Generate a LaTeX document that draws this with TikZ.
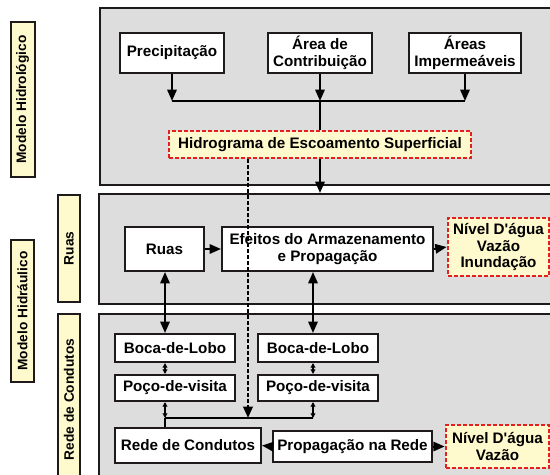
\documentclass[tikz,border=0pt]{standalone}
\usepackage{fontspec}
\setmainfont{Liberation Sans}
\usepackage{xcolor}
\usetikzlibrary{arrows.meta,positioning}

\definecolor{panelgray}{RGB}{221,221,221}
\definecolor{notefill}{RGB}{255,250,205}
\definecolor{notered}{RGB}{226,32,30}
\definecolor{inkline}{RGB}{30,26,26}

% one pixel of the layout, in pt
\newcommand{\pxl}{0.75}

\begin{document}
\begin{tikzpicture}[
    x=0.75pt,y=-0.75pt,
    >={Triangle[length=8.5pt,width=7pt]},
    font=\fontsize{11.4}{12.6}\selectfont\bfseries,
    line width=1.5pt,
    panel/.style={
        draw=inkline,
        fill=panelgray,
        line width=1.5pt
    },
    sidelabel/.style={
        draw=inkline,
        fill=notefill,
        rotate=90,
        line width=1.5pt,
        inner sep=0pt,
        font=\fontsize{10.3}{12}\selectfont\bfseries
    },
    box/.style={
        draw=inkline,
        fill=white,
        line width=1.5pt,
        align=center,
        inner sep=0pt
    },
    outbox/.style={
        draw=notered,
        fill=notefill,
        line width=2pt,
        dash pattern=on 3pt off 1.5pt,
        align=center,
        inner sep=0pt
    },
    tiny/.style={{Triangle[length=3.5pt,width=3.5pt]}-{Triangle[length=3.5pt,width=3.5pt]}}
]

\useasboundingbox (0,0) rectangle (550,475);
\clip (0,0) rectangle (550,475);

% panels
\node[panel, minimum width=470*\pxl, minimum height=177*\pxl, anchor=north west] (hidpanel) at (99,7) {};
\node[panel, minimum width=470*\pxl, minimum height=110*\pxl, anchor=north west] (ruaspanel) at (98,193) {};
\node[panel, minimum width=470*\pxl, minimum height=180*\pxl, anchor=north west] (redepanel) at (98,313) {};

% side labels
\node[sidelabel, minimum width=155*\pxl, minimum height=24*\pxl] (lblhid)  at (22.5,99.5) {Modelo Hidrológico};
\node[sidelabel, minimum width=142*\pxl, minimum height=23*\pxl] (lblhidr) at (22.5,311) {Modelo Hidráulico};
\node[sidelabel, minimum width=107*\pxl, minimum height=22*\pxl] (lblruas) at (69,248.5) {Ruas};
\node[sidelabel, minimum width=171*\pxl, minimum height=22*\pxl] (lblrede) at (69,399.5) {Rede de Condutos};

% modelo hidrologico
\node[box, minimum width=104*\pxl, minimum height=40*\pxl] (prec)   at (172,53) {Precipitação};
\node[box, minimum width=104*\pxl, minimum height=40*\pxl] (area)   at (320,53) {Área de\\Contribuição};
\node[box, minimum width=112*\pxl, minimum height=40*\pxl] (imperm) at (465,53) {Áreas\\Impermeáveis};
\node[outbox, minimum width=302*\pxl, minimum height=27*\pxl] (hidro) at (320,144.5) {Hidrograma de Escoamento Superficial};

% ruas
\node[box, minimum width=79*\pxl, minimum height=44*\pxl]  (ruas)    at (164.5,249) {Ruas};
\node[box, minimum width=211*\pxl, minimum height=44*\pxl] (efeitos) at (327.5,249) {Efeitos do Armazenamento\\e Propagação};
\node[outbox, minimum width=101*\pxl, minimum height=58*\pxl] (nivruas) at (498.5,247) {Nível D\textquotesingle água\\Vazão\\Inundação};

% rede de condutos
\node[box, minimum width=120*\pxl, minimum height=28*\pxl] (bocaA) at (175,348) {Boca-de-Lobo};
\node[box, minimum width=120*\pxl, minimum height=28*\pxl] (bocaB) at (318,348) {Boca-de-Lobo};
\node[box, minimum width=120*\pxl, minimum height=26*\pxl] (pocoA) at (175,388) {Poço-de-visita};
\node[box, minimum width=120*\pxl, minimum height=26*\pxl] (pocoB) at (318,388) {Poço-de-visita};
\node[box, minimum width=146*\pxl, minimum height=35*\pxl] (rede) at (188,445.5) {Rede de Condutos};
\node[box, minimum width=159*\pxl, minimum height=31*\pxl] (prop) at (352.5,446.5) {Propagação na Rede};
\node[outbox, minimum width=103*\pxl, minimum height=43*\pxl] (nivrede) at (497.5,446.5) {Nível D\textquotesingle água\\Vazão};

\coordinate (bus)  at (320,101);
\coordinate (junc) at (248,418);
\coordinate (lcol) at (165,418);
\coordinate (rcol) at (313,418);

% connectors
\draw[->] (prec.south) -- (prec.south |- bus);
\draw (prec.south |- bus) -- (imperm.south |- bus);
\draw[->] (area.south) -- (bus);
\draw (bus) -- (hidro.north);
\draw[->] (imperm.south) -- (imperm.south |- bus);
\draw[->] (hidro.south) -- (hidro.south |- ruaspanel.north);
\draw[->, line width=1.8pt, dash pattern=on 3pt off 1.5pt] (hidro.south -| junc) -- (junc);

\draw[->] (ruas.east) -- (efeitos.west);
\draw[->] (efeitos.east) -- (nivruas.west);
\draw[<->] (ruas.south -| lcol) -- (bocaA.north -| lcol);
\draw[<->] (efeitos.south -| rcol) -- (bocaB.north -| rcol);

\draw[tiny, line width=1pt] (bocaA.south -| lcol) -- (pocoA.north -| lcol);
\draw[tiny, line width=1pt] (bocaB.south -| rcol) -- (pocoB.north -| rcol);
\draw[tiny, line width=1pt] (pocoA.south -| lcol) -- (lcol);
\draw[tiny, line width=1pt] (pocoB.south -| rcol) -- (rcol);
\draw (lcol) -- (rcol);
\draw (lcol) -- (rede.north -| lcol);

\draw[->] (prop.west) -- (rede.east);
\draw[->] (prop.east) -- (nivrede.west);

\end{tikzpicture}
\end{document}
